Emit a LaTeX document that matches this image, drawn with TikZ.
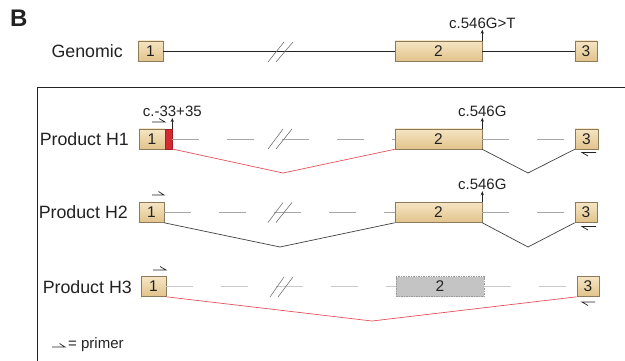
\documentclass[tikz,border=0pt]{standalone}
\usepackage{fontspec}
\setmainfont{Liberation Sans}
\usetikzlibrary{arrows.meta,calc}
\definecolor{exbord}{HTML}{8C7A5B}
\definecolor{extop}{HTML}{F5E5C3}
\definecolor{exbot}{HTML}{E2C38B}
\definecolor{redblk}{HTML}{D42A32}
\definecolor{redln}{HTML}{E8505C}
\definecolor{dashgray}{HTML}{A6A6A6}
\definecolor{dashlight}{HTML}{C8C8C8}
\definecolor{txt}{HTML}{222222}
\tikzset{
  exon/.style={draw=exbord, line width=0.6pt, top color=extop, bottom color=exbot,
    minimum height=20pt, inner sep=0pt, font=\fontsize{15.5}{18}\selectfont, text=txt},
  ghost/.style={draw=black!40, dash pattern=on 1.5pt off 1pt, line width=0.5pt, fill=black!23,
    minimum height=20pt, inner sep=0pt, font=\fontsize{15.5}{18}\selectfont, text=txt},
  lbl/.style={font=\fontsize{17.8}{21}\selectfont, text=txt, inner sep=0pt},
  mut/.style={font=\fontsize{15}{18}\selectfont, text=txt, inner sep=1pt, anchor=south},
  mutarrow/.style={-{Stealth[length=4pt,width=3.2pt]}, line width=0.7pt, txt},
  intron/.style={draw=dashgray, line width=0.9pt, dash pattern=on 27pt off 28pt},
  introntwo/.style={draw=dashlight, line width=1.6pt, dash pattern=on 27pt off 28pt},
  splice/.style={line width=0.7pt, draw=black!75},
  redsplice/.style={line width=0.7pt, draw=redln},
  primer/.style={line width=0.7pt, txt, line join=miter},
  brk/.style={draw=black!55, line width=0.6pt}
}
\begin{document}
\begin{tikzpicture}[x=1pt,y=-1pt]
\useasboundingbox (0,0) rectangle (625,361);

% panel letter
\node[font=\bfseries\fontsize{24}{28}\selectfont, anchor=north west, inner sep=0pt, text=txt] (B) at (10,10) {B};

% Genomic
\node[lbl, anchor=east] (lg) at (123,51) {Genomic};
\node[exon, minimum width=25pt] (g1) at (150.5,51) {1};
\node[exon, minimum width=87pt] (g2) at (438.5,51) {2};
\node[exon, minimum width=22pt] (g3) at (586,51) {3};
\draw[line width=0.9pt, txt] (g1) -- (g2);
\draw[line width=0.9pt, txt] (g2) -- (g3);
\draw[brk] (268,62) -- (284,42);
\draw[brk] (276,62) -- (293,42);
\draw[mutarrow] (g2.north east) -- ++(0,-11) node[mut] (gm) {c.546G>T};

% frame
\draw[line width=1pt, txt] (625,88) -- (37.5,88) -- (37.5,361);

% Product H1
\node[lbl, anchor=east] (l1) at (129,139) {Product H1};
\node[exon, minimum width=26pt] (h1a) at (152,139) {1};
\node[draw=redblk!75!black, line width=0.6pt, fill=redblk, minimum width=7pt, minimum height=20pt, inner sep=0pt, outer sep=0pt, anchor=west] (h1r) at (h1a.east) {};
\node[exon, minimum width=87pt] (h1b) at (438.5,139) {2};
\node[exon, minimum width=23pt] (h1c) at (586.5,139) {3};
\draw[intron] (h1r.east) -- (h1b.west);
\draw[intron] (h1b.east) -- (h1c.west);
\coordinate (h1v1) at (283,173);
\coordinate (h1v2) at (528,173);
\draw[redsplice] (h1r.south east) -- (h1v1) -- (h1b.south west);
\draw[splice] (h1b.south east) -- (h1v2) -- (h1c.south west);
\draw[brk] (268,149) -- (283,129);
\draw[brk] (276,149) -- (292,129);
\draw[mutarrow] (h1r.north east) -- ++(0,-11) node[mut] (m1) {c.-33+35};
\draw[mutarrow] (h1b.north east) -- ++(0,-11) node[mut] (m1b) {c.546G};
\draw[primer] (152,122) -- (165,122) -- (159,118.5);
\draw[primer] (596,152.5) -- (582,152.5) -- (588,156);

% Product H2
\node[lbl, anchor=east] (l2) at (128,212.5) {Product H2};
\node[exon, minimum width=25pt] (h2a) at (151.5,212.5) {1};
\node[exon, minimum width=87pt] (h2b) at (438.5,212.5) {2};
\node[exon, minimum width=22pt] (h2c) at (586,212.5) {3};
\draw[intron] (h2a.east) -- (h2b.west);
\draw[intron] (h2b.east) -- (h2c.west);
\coordinate (h2v1) at (280,247);
\coordinate (h2v2) at (528,247);
\draw[splice] (h2a.south east) -- (h2v1) -- (h2b.south west);
\draw[splice] (h2b.south east) -- (h2v2) -- (h2c.south west);
\draw[brk] (268,222.5) -- (283,202.5);
\draw[brk] (276,222.5) -- (292,202.5);
\draw[mutarrow] (h2b.north east) -- ++(0,-11) node[mut] (m2) {c.546G};
\draw[primer] (152,195) -- (164,195) -- (158.5,191.5);
\draw[primer] (596,226.5) -- (582,226.5) -- (588,230);

% Product H3
\node[lbl, anchor=east] (l3) at (132,287) {Product H3};
\node[exon, minimum width=25pt] (h3a) at (153.5,286.5) {1};
\node[ghost, minimum width=88pt] (h3b) at (440,286.5) {2};
\node[exon, minimum width=22pt] (h3c) at (588,286.5) {3};
\draw[introntwo] (h3a.east) -- (h3b.west);
\draw[introntwo] (h3b.east) -- (h3c.west);
\coordinate (h3v1) at (372,321);
\draw[redsplice] (h3a.south east) -- (h3v1) -- (h3c.south west);
\draw[brk] (270,297) -- (284,277);
\draw[brk] (278,297) -- (293,277);
\draw[primer] (153,270) -- (166,270) -- (160,266.5);
\draw[primer] (595,302) -- (582,302) -- (588,305.5);

% legend
\draw[primer] (52,347) -- (65,347) -- (59.5,343.5);
\node[font=\fontsize{15}{18}\selectfont, text=txt, anchor=west, inner sep=0pt] (leg) at (68,345) {= primer};
\end{tikzpicture}
\end{document}
